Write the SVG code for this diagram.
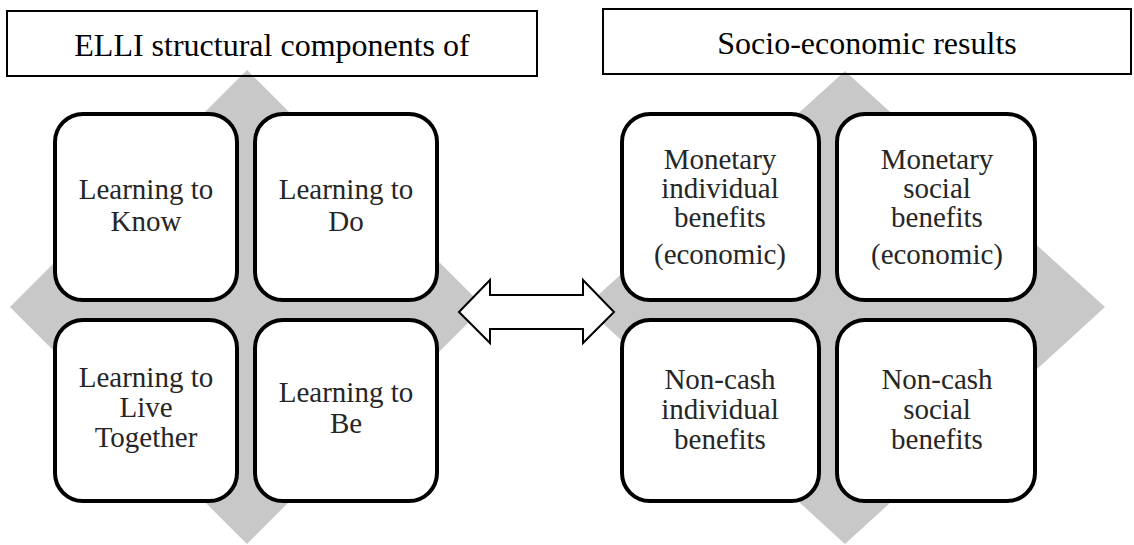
<svg xmlns="http://www.w3.org/2000/svg" width="1134" height="545" viewBox="0 0 1134 545">
<style>
.bg{fill:#c8c8c8;stroke:none}
.title{fill:none;stroke:#000;stroke-width:2}
.box{fill:#fff;stroke:#000;stroke-width:4}
.tt{font-family:"Liberation Serif","Times New Roman",serif;font-size:32px;fill:#000;text-anchor:middle}
.t{font-family:"Liberation Serif","Times New Roman",serif;font-size:29px;fill:#262626;text-anchor:middle}
.arrow{fill:#fff;stroke:#000;stroke-width:2;stroke-linejoin:miter}
</style>
<rect width="1134" height="545" fill="#fff"/>
<g id="diamond-left"><polygon class="bg" points="247,70 484,307 247,544 10,307"/></g>
<g id="diamond-right"><polygon class="bg" points="845,71 1105,307 845,544 585,307"/></g>
<g id="title-left">
<rect class="title" x="7" y="11" width="530" height="65"/>
<text class="tt" x="272" y="56">ELLI structural components of</text>
</g>
<g id="title-right">
<rect class="title" x="603" y="9" width="528" height="65"/>
<text class="tt" x="867" y="54">Socio-economic results</text>
</g>
<g id="know">
<rect class="box" x="55" y="114" width="182" height="186" rx="28"/>
<text class="t" x="146" y="199">Learning to</text>
<text class="t" x="146" y="231">Know</text>
</g>
<g id="do">
<rect class="box" x="255" y="114" width="182" height="186" rx="28"/>
<text class="t" x="346" y="199">Learning to</text>
<text class="t" x="346" y="231">Do</text>
</g>
<g id="live">
<rect class="box" x="55" y="320" width="182" height="181" rx="28"/>
<text class="t" x="146" y="387">Learning to</text>
<text class="t" x="146" y="417">Live</text>
<text class="t" x="146" y="447">Together</text>
</g>
<g id="be">
<rect class="box" x="255" y="320" width="182" height="181" rx="28"/>
<text class="t" x="346" y="402">Learning to</text>
<text class="t" x="346" y="433">Be</text>
</g>
<g id="mon-ind">
<rect class="box" x="622" y="114" width="197" height="186" rx="28"/>
<text class="t" x="720" y="169">Monetary</text>
<text class="t" x="720" y="198">individual</text>
<text class="t" x="720" y="227">benefits</text>
<text class="t" x="720" y="264">(economic)</text>
</g>
<g id="mon-soc">
<rect class="box" x="837" y="114" width="198" height="186" rx="28"/>
<text class="t" x="937" y="169">Monetary</text>
<text class="t" x="937" y="198">social</text>
<text class="t" x="937" y="227">benefits</text>
<text class="t" x="937" y="264">(economic)</text>
</g>
<g id="nc-ind">
<rect class="box" x="622" y="320" width="197" height="181" rx="28"/>
<text class="t" x="720" y="389">Non-cash</text>
<text class="t" x="720" y="419">individual</text>
<text class="t" x="720" y="449">benefits</text>
</g>
<g id="nc-soc">
<rect class="box" x="837" y="320" width="198" height="181" rx="28"/>
<text class="t" x="937" y="389">Non-cash</text>
<text class="t" x="937" y="419">social</text>
<text class="t" x="937" y="449">benefits</text>
</g>
<g id="connectors">
<polygon class="arrow" points="459,312 490,280 490,295 583,295 583,280 614,312 583,343 583,329 490,329 490,343"/>
</g>
</svg>
